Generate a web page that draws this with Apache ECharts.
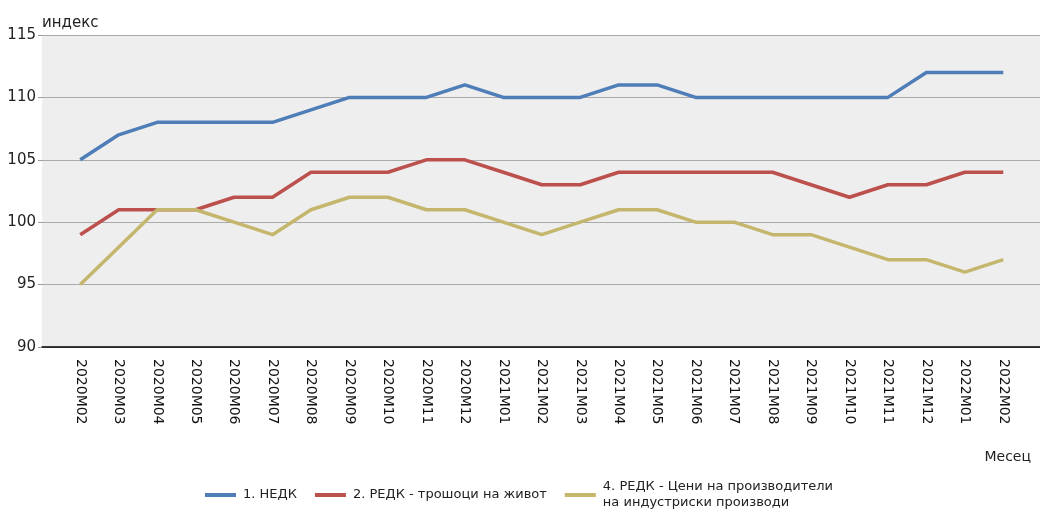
<!DOCTYPE html>
<html>
<head>
<meta charset="utf-8">
<script src="https://cdn.jsdelivr.net/npm/echarts@6/dist/echarts.min.js"></script>
<style>
html,body{margin:0;padding:0;background:#fff;}
#chart{width:1040px;height:509px;}
</style>
</head>
<body>
<div id="chart"></div>
<script>
const categories = ['2020M02','2020M03','2020M04','2020M05','2020M06','2020M07','2020M08','2020M09','2020M10','2020M11','2020M12','2021M01','2021M02','2021M03','2021M04','2021M05','2021M06','2021M07','2021M08','2021M09','2021M10','2021M11','2021M12','2022M01','2022M02'];
const nedk = [105,107,108,108,108,108,109,110,110,110,111,110,110,110,111,111,110,110,110,110,110,110,112,112,112];
const redkLiving = [99,101,101,101,102,102,104,104,104,105,105,104,103,103,104,104,104,104,104,103,102,103,103,104,104];
const redkProducer = [95,98,101,101,100,99,101,102,102,101,101,100,99,100,101,101,100,100,99,99,98,97,97,96,97];
const seriesNames = ['1. НЕДК','2. РЕДК - трошоци на живот','4. РЕДК - Цени на производители\nна индустриски производи'];
const yTicks = {min:90, max:115, interval:5};

const font = 'DejaVu Sans';
const chart = echarts.init(document.getElementById('chart'));
chart.setOption({
  animation:false,
  textStyle:{fontFamily:font},
  color:['#4F7DB8','#BC504D','#C5B66E'],
  title:{text:'Месец', right:4, top:445, textStyle:{fontSize:14, fontWeight:'normal', color:'#222', fontFamily:font}},
  legend:{
    left:200, top:474, itemWidth:31, itemHeight:4, itemGap:18, icon:'rect',
    textStyle:{fontSize:13, color:'#222', lineHeight:16, fontFamily:font, padding:[0,0,0,2]},
    data:seriesNames
  },
  grid:[
    {left:42, right:0, top:35, bottom:162, show:true, backgroundColor:'#eeeeee', borderWidth:0},
    {left:61, right:17.5, top:35, bottom:162}
  ],
  xAxis:[
    {gridIndex:0, type:'value', min:0, max:1, show:true,
     axisLine:{show:true, onZero:false, lineStyle:{color:'#000', width:1.5}},
     axisTick:{show:false}, axisLabel:{show:false}, splitLine:{show:false}},
    {gridIndex:1, type:'category', data:categories, boundaryGap:true,
     axisLine:{show:false}, axisTick:{show:false},
     axisLabel:{rotate:-90, margin:12, fontSize:14, color:'#111', fontFamily:font, interval:0}}
  ],
  yAxis:[
    {gridIndex:0, type:'value', min:yTicks.min, max:yTicks.max, interval:yTicks.interval,
     name:'индекс', nameLocation:'end', nameGap:4,
     nameTextStyle:{align:'left', verticalAlign:'bottom', fontSize:15, color:'#222', fontFamily:font},
     axisLine:{show:false},
     axisTick:{show:true, length:4, lineStyle:{color:'#999'}},
     axisLabel:{fontSize:15, color:'#222', margin:6, fontFamily:font},
     splitLine:{show:true, lineStyle:{color:'#aaaaaa', width:1}}},
    {gridIndex:1, type:'value', min:yTicks.min, max:yTicks.max, interval:yTicks.interval, show:false, splitLine:{show:false}}
  ],
  series:[
    {name:seriesNames[0], type:'line', xAxisIndex:1, yAxisIndex:1, data:nedk, showSymbol:false, symbol:'none', lineStyle:{width:3.5}},
    {name:seriesNames[1], type:'line', xAxisIndex:1, yAxisIndex:1, data:redkLiving, showSymbol:false, symbol:'none', lineStyle:{width:3.5}},
    {name:seriesNames[2], type:'line', xAxisIndex:1, yAxisIndex:1, data:redkProducer, showSymbol:false, symbol:'none', lineStyle:{width:3.5}}
  ]
});
</script>
</body>
</html>
